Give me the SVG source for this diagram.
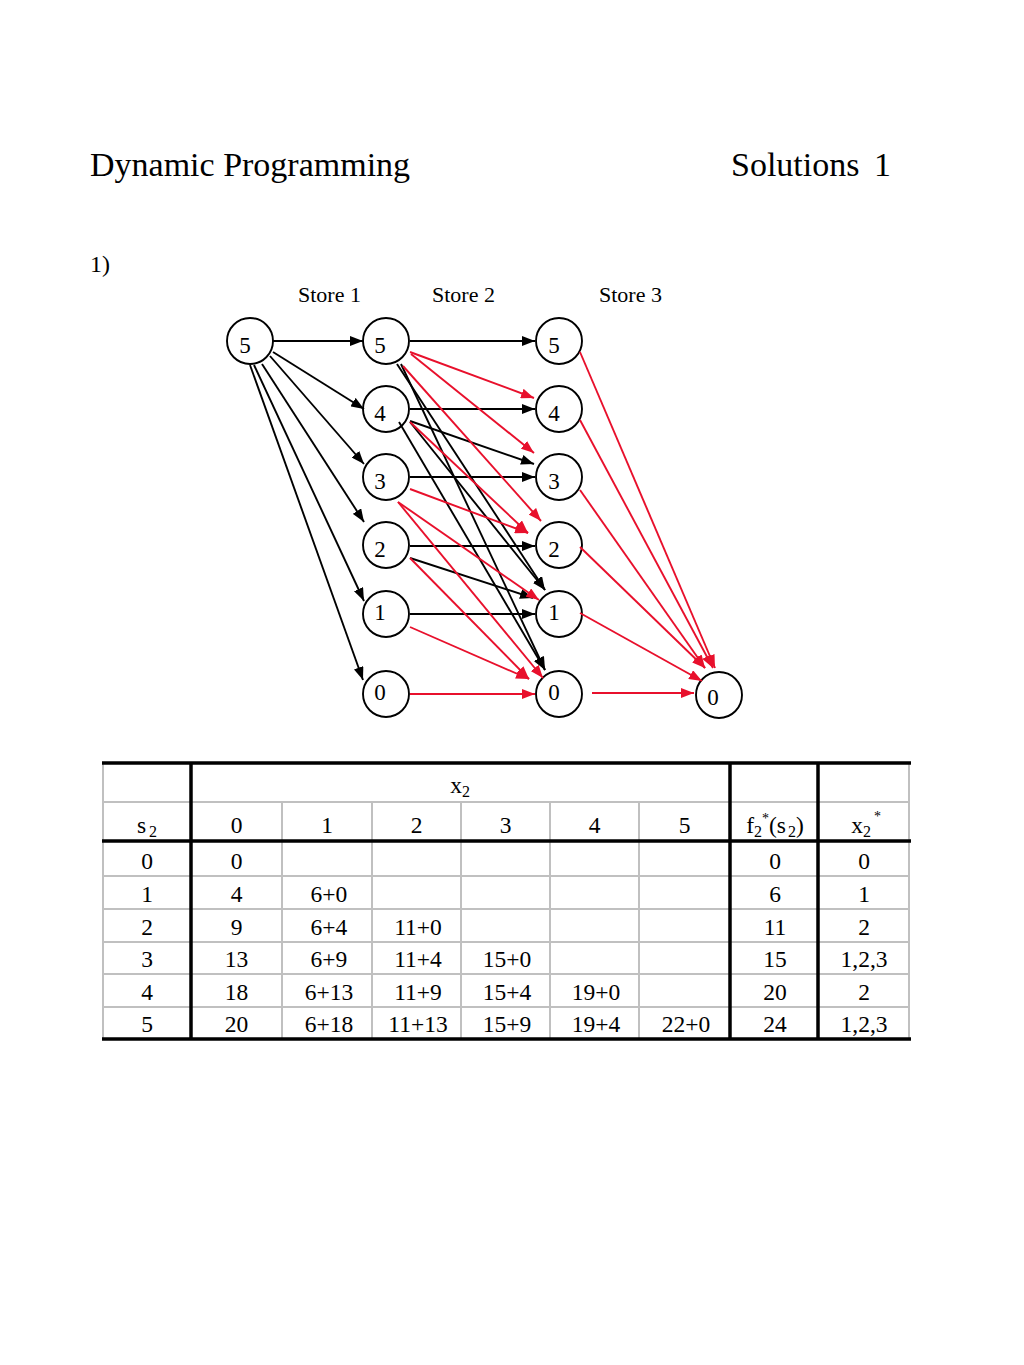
<svg xmlns="http://www.w3.org/2000/svg" width="1024" height="1365" viewBox="0 0 1024 1365">
<style>
text { font-family: "Liberation Serif", "Times New Roman", serif; fill: #000; }
.node circle { fill: #fff; stroke: #000; stroke-width: 1.9; }
.nl { font-size: 23px; text-anchor: middle; }
.blk { stroke: #000; stroke-width: 1.9; fill: none; marker-end: url(#ab); }
.red { stroke: #e8102c; stroke-width: 1.9; fill: none; marker-end: url(#ar); }
.g { stroke: #c0c0c0; stroke-width: 2; }
.k { stroke: #000; stroke-width: 3.5; }
.tc { font-size: 23.5px; text-anchor: middle; }
.sub { font-size: 16px; }
</style>
<defs>
<marker id="ab" markerUnits="userSpaceOnUse" markerWidth="13" markerHeight="10" refX="13" refY="5" orient="auto" viewBox="0 0 13 10"><path d="M0,0 L13,5 L0,10 z" fill="#000"/></marker>
<marker id="ar" markerUnits="userSpaceOnUse" markerWidth="13" markerHeight="10" refX="13" refY="5" orient="auto" viewBox="0 0 13 10"><path d="M0,0 L13,5 L0,10 z" fill="#e8102c"/></marker>
</defs>
<rect width="1024" height="1365" fill="#fff"/>

<g id="title">
<text x="90" y="176" font-size="34">Dynamic Programming</text>
<text x="731" y="176" font-size="34">Solutions</text>
<text x="874" y="176" font-size="34">1</text>
<text x="90" y="272" font-size="24">1)</text>
<text x="298" y="302" font-size="22">Store 1</text>
<text x="432" y="302" font-size="22">Store 2</text>
<text x="599" y="302" font-size="22">Store 3</text>
</g>

<g id="nodes">
<g id="n0-5" class="node"><circle cx="250" cy="341" r="23"/><text class="nl" x="245" y="353">5</text></g>
<g id="n1-5" class="node"><circle cx="386" cy="341" r="23"/><text class="nl" x="380" y="353">5</text></g>
<g id="n1-4" class="node"><circle cx="386" cy="409" r="23"/><text class="nl" x="380" y="421">4</text></g>
<g id="n1-3" class="node"><circle cx="386" cy="477" r="23"/><text class="nl" x="380" y="489">3</text></g>
<g id="n1-2" class="node"><circle cx="386" cy="545" r="23"/><text class="nl" x="380" y="557">2</text></g>
<g id="n1-1" class="node"><circle cx="386" cy="614" r="23"/><text class="nl" x="380" y="620">1</text></g>
<g id="n1-0" class="node"><circle cx="386" cy="694" r="23"/><text class="nl" x="380" y="700">0</text></g>
<g id="n2-5" class="node"><circle cx="559" cy="341" r="23"/><text class="nl" x="554" y="353">5</text></g>
<g id="n2-4" class="node"><circle cx="559" cy="409" r="23"/><text class="nl" x="554" y="421">4</text></g>
<g id="n2-3" class="node"><circle cx="559" cy="477" r="23"/><text class="nl" x="554" y="489">3</text></g>
<g id="n2-2" class="node"><circle cx="559" cy="545" r="23"/><text class="nl" x="554" y="557">2</text></g>
<g id="n2-1" class="node"><circle cx="559" cy="614" r="23"/><text class="nl" x="554" y="620">1</text></g>
<g id="n2-0" class="node"><circle cx="559" cy="694" r="23"/><text class="nl" x="554" y="700">0</text></g>
<g id="n3-0" class="node"><circle cx="719" cy="695" r="23"/><text class="nl" x="713" y="705">0</text></g>
</g>

<g id="connectors">
<line class="blk" x1="273" y1="341" x2="363" y2="341"/>
<line class="blk" x1="273" y1="352" x2="364" y2="409"/>
<line class="blk" x1="270" y1="356" x2="364" y2="464"/>
<line class="blk" x1="262" y1="364" x2="364" y2="522"/>
<line class="blk" x1="254" y1="365" x2="364" y2="601"/>
<line class="blk" x1="250" y1="365" x2="363" y2="680"/>

<line class="blk" x1="410" y1="341" x2="535" y2="341"/>
<line class="blk" x1="410" y1="409" x2="535" y2="409"/>
<line class="blk" x1="410" y1="477" x2="535" y2="477"/>
<line class="blk" x1="410" y1="546" x2="535" y2="546"/>
<line class="blk" x1="410" y1="614" x2="535" y2="614"/>
<line class="blk" x1="410" y1="421" x2="534" y2="464"/>
<line class="blk" x1="410" y1="558" x2="533" y2="598"/>
<line class="blk" x1="397" y1="364" x2="545" y2="590"/>
<line class="blk" x1="401" y1="364" x2="545" y2="670"/>
<line class="blk" x1="410" y1="422" x2="545" y2="590"/>
<line class="blk" x1="399" y1="422" x2="545" y2="670"/>

<line class="red" x1="410" y1="352" x2="534" y2="398"/>
<line class="red" x1="411" y1="354" x2="534" y2="453"/>
<line class="red" x1="403" y1="366" x2="541" y2="521"/>
<line class="red" x1="410" y1="422" x2="528" y2="533"/>
<line class="red" x1="410" y1="489" x2="528" y2="533"/>
<line class="red" x1="398" y1="502" x2="539" y2="600"/>
<line class="red" x1="398" y1="502" x2="543" y2="678"/>
<line class="red" x1="410" y1="558" x2="529" y2="679"/>
<line class="red" x1="410" y1="627" x2="529" y2="679"/>
<line class="red" x1="410" y1="694" x2="535" y2="694"/>

<line class="red" x1="580" y1="352" x2="715" y2="668"/>
<line class="red" x1="580" y1="420" x2="713" y2="668"/>
<line class="red" x1="580" y1="490" x2="705" y2="668"/>
<line class="red" x1="580" y1="547" x2="705" y2="668"/>
<line class="red" x1="580" y1="613" x2="702" y2="681"/>
<line class="red" x1="592" y1="693" x2="694" y2="693"/>
</g>

<g id="table">
<g id="grid-thin">
<line class="g" x1="103" y1="802" x2="909" y2="802"/>
<line class="g" x1="103" y1="876" x2="909" y2="876"/>
<line class="g" x1="103" y1="909" x2="909" y2="909"/>
<line class="g" x1="103" y1="942" x2="909" y2="942"/>
<line class="g" x1="103" y1="974" x2="909" y2="974"/>
<line class="g" x1="103" y1="1007" x2="909" y2="1007"/>
<line class="g" x1="103" y1="763" x2="103" y2="1039"/>
<line class="g" x1="909" y1="763" x2="909" y2="1039"/>
<line class="g" x1="282" y1="802" x2="282" y2="1039"/>
<line class="g" x1="372" y1="802" x2="372" y2="1039"/>
<line class="g" x1="461" y1="802" x2="461" y2="1039"/>
<line class="g" x1="550" y1="802" x2="550" y2="1039"/>
<line class="g" x1="639" y1="802" x2="639" y2="1039"/>
</g>
<g id="grid-thick">
<line class="k" x1="102" y1="763" x2="911" y2="763"/>
<line class="k" x1="102" y1="841" x2="911" y2="841"/>
<line class="k" x1="102" y1="1039" x2="911" y2="1039"/>
<line class="k" x1="191" y1="763" x2="191" y2="1039"/>
<line class="k" x1="730" y1="763" x2="730" y2="1039"/>
<line class="k" x1="818" y1="763" x2="818" y2="1039"/>
</g>
<g id="header">
<text class="tc" x="460" y="793">x<tspan class="sub" dy="4">2</tspan></text>
<text class="tc" x="147" y="833">s<tspan class="sub" dx="3" dy="4">2</tspan></text>
<text class="tc" x="236.5" y="833">0</text>
<text class="tc" x="327" y="833">1</text>
<text class="tc" x="416.5" y="833">2</text>
<text class="tc" x="505.5" y="833">3</text>
<text class="tc" x="594.5" y="833">4</text>
<text class="tc" x="684.5" y="833">5</text>
<text class="tc" x="775" y="833">f<tspan class="sub" dy="4">2</tspan><tspan font-size="14" dy="-14">*</tspan><tspan dy="10">(s</tspan><tspan class="sub" dx="2" dy="4">2</tspan><tspan dy="-4">)</tspan></text>
<text class="tc" x="866" y="833">x<tspan class="sub" dy="4">2</tspan><tspan font-size="14" dx="3" dy="-16">*</tspan></text>
</g>
<g id="rows">
<text class="tc" x="147" y="869">0</text><text class="tc" x="236.5" y="869">0</text><text class="tc" x="775" y="869">0</text><text class="tc" x="864" y="869">0</text>
<text class="tc" x="147" y="902">1</text><text class="tc" x="236.5" y="902">4</text><text class="tc" x="329" y="902">6+0</text><text class="tc" x="775" y="902">6</text><text class="tc" x="864" y="902">1</text>
<text class="tc" x="147" y="935">2</text><text class="tc" x="236.5" y="935">9</text><text class="tc" x="329" y="935">6+4</text><text class="tc" x="418" y="935">11+0</text><text class="tc" x="775" y="935">11</text><text class="tc" x="864" y="935">2</text>
<text class="tc" x="147" y="967">3</text><text class="tc" x="236.5" y="967">13</text><text class="tc" x="329" y="967">6+9</text><text class="tc" x="418" y="967">11+4</text><text class="tc" x="507" y="967">15+0</text><text class="tc" x="775" y="967">15</text><text class="tc" x="864" y="967">1,2,3</text>
<text class="tc" x="147" y="1000">4</text><text class="tc" x="236.5" y="1000">18</text><text class="tc" x="329" y="1000">6+13</text><text class="tc" x="418" y="1000">11+9</text><text class="tc" x="507" y="1000">15+4</text><text class="tc" x="596" y="1000">19+0</text><text class="tc" x="775" y="1000">20</text><text class="tc" x="864" y="1000">2</text>
<text class="tc" x="147" y="1032">5</text><text class="tc" x="236.5" y="1032">20</text><text class="tc" x="329" y="1032">6+18</text><text class="tc" x="418" y="1032">11+13</text><text class="tc" x="507" y="1032">15+9</text><text class="tc" x="596" y="1032">19+4</text><text class="tc" x="686" y="1032">22+0</text><text class="tc" x="775" y="1032">24</text><text class="tc" x="864" y="1032">1,2,3</text>
</g>
</g>
</svg>
